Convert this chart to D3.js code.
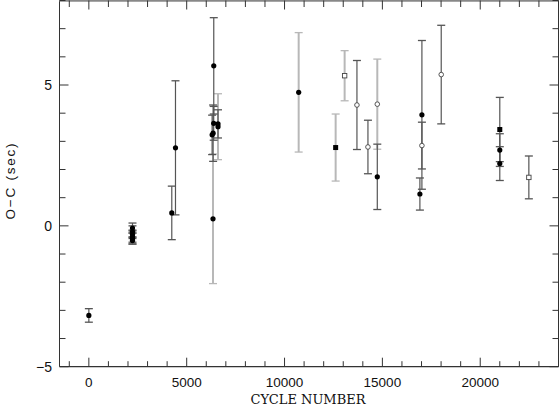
<!DOCTYPE html>
<html><head><meta charset="utf-8">
<script src="https://cdn.jsdelivr.net/npm/d3@7"></script>
<style>body{margin:0;background:#fff}svg{display:block}</style>
</head><body>
<svg id="c" width="560" height="407"></svg>
<script>
// ---- data ----
const cycles = [0, 2230, 2230, 2230, 2230, 2230, 2230, 4238, 4427, 6344, 6383, 6380, 6600, 6600, 6300, 6350,
  10722, 12612, 13071, 13700, 14262, 14740, 14740, 16917, 17020, 17020, 18007, 21000, 21000, 21000, 22485];
const oc = [-3.18, -0.08, -0.2, -0.3, -0.38, -0.45, -0.52, 0.46, 2.77, 0.25, 5.68, 3.64, 3.62, 3.52, 3.23, 3.29,
  4.74, 2.78, 5.33, 4.29, 2.80, 4.32, 1.74, 1.13, 3.94, 2.85, 5.37, 3.42, 2.69, 2.21, 1.72];
const ocErr = [0.24, 0.18, 0.2, 0.15, 0.2, 0.2, 0.12, 0.95, 2.38, 2.3, 1.71, 0.6, 0.5, 1.17, 0.7, 1.0,
  2.12, 1.19, 0.89, 1.58, 0.95, 1.6, 1.16, 0.57, 2.64, 0.83, 1.75, 1.14, 0.58, 0.6, 0.76];
// marker kind: fc = filled circle, fs = filled square, oc = open circle, os = open square
const markerKind = ["fc","fc","fc","fc","fc","fc","fc","fc","fc","fc","fc","fc","fc","fc","fc","fc",
  "fc","fs","os","oc","oc","oc","fc","fc","fc","oc","oc","fs","fc","fc","os"];
// error source group: d = dark, g = grey
const errGroup = ["d","d","d","d","d","d","d","d","d","g","d","d","d","g","d","d",
  "g","g","g","d","d","g","d","d","d","d","d","d","d","d","d"];
const xTickLabels = [0, 5000, 10000, 15000, 20000];
const yTickLabels = [-5, 0, 5];
const xTitle = "CYCLE NUMBER";
const yTitle = "O\u2212C  (sec)";

const rows = cycles.map((c, i) => ({c, v: oc[i], e: ocErr[i], k: markerKind[i], g: errGroup[i]}));

// ---- layout ----
const svg = d3.select("#c");
const L = 59.5, R = 558.5, T = 0.5, B = 366.7;
const x = d3.scaleLinear().domain([-1500, 24000]).range([L, R]);
const y = d3.scaleLinear().domain([-5, 8]).range([B, T]);
const frameCol = "#333";
const barCol = {d: "#555", g: "#b8b8b8"};
const barW = {d: 1.2, g: 2};

// frame
svg.append("line").attr("x1", L).attr("x2", L).attr("y1", T).attr("y2", B).attr("stroke", frameCol);
svg.append("line").attr("x1", R).attr("x2", R).attr("y1", T).attr("y2", B).attr("stroke", frameCol);
svg.append("line").attr("x1", L).attr("x2", R).attr("y1", B).attr("y2", B).attr("stroke", frameCol).attr("stroke-width", 1.2);
svg.append("line").attr("x1", L).attr("x2", R).attr("y1", 0.5).attr("y2", 0.5).attr("stroke", "#888").attr("stroke-width", 2.5);

// ticks
const xt = d3.range(-1000, 24001, 1000);
const yt = d3.range(-5, 8.01, 1);
const isMajX = t => t % 5000 === 0, isMajY = t => t % 5 === 0;
xt.forEach(t => {
  const len = isMajX(t) ? 9 : 5.5;
  svg.append("line").attr("x1", x(t)).attr("x2", x(t)).attr("y1", B).attr("y2", B - len).attr("stroke", frameCol);
  svg.append("line").attr("x1", x(t)).attr("x2", x(t)).attr("y1", T).attr("y2", T + (isMajX(t) ? 9 : 6.5)).attr("stroke", frameCol);
});
yt.forEach(t => {
  const len = isMajY(t) ? 9 : 6;
  svg.append("line").attr("x1", L).attr("x2", L + len).attr("y1", y(t)).attr("y2", y(t)).attr("stroke", frameCol);
  svg.append("line").attr("x1", R).attr("x2", R - len).attr("y1", y(t)).attr("y2", y(t)).attr("stroke", frameCol);
});

// tick labels
const fSans = "'Liberation Sans', Arial, sans-serif";
svg.selectAll(".xl").data(xTickLabels).join("text")
  .attr("x", d => x(d)).attr("y", 387).attr("text-anchor", "middle")
  .attr("font-family", fSans).attr("font-size", 13.5).attr("fill", "#111")
  .text(d => d);
svg.selectAll(".yl").data(yTickLabels).join("text")
  .attr("x", 52).attr("y", d => y(d) + 5).attr("text-anchor", "end")
  .attr("font-family", fSans).attr("font-size", 14).attr("fill", "#111")
  .text(d => d < 0 ? "\u2212" + Math.abs(d) : d);

// titles
svg.append("text").attr("x", 308).attr("y", 403.5).attr("text-anchor", "middle")
  .attr("font-family", "'DejaVu Serif', serif").attr("font-size", 13).attr("fill", "#111")
  .attr("textLength", 115).attr("lengthAdjust", "spacingAndGlyphs")
  .text(xTitle);
svg.append("text").attr("transform", "translate(15,181.5) rotate(-90)").attr("text-anchor", "middle")
  .attr("font-family", fSans).attr("font-size", 13.5).attr("fill", "#111")
  .attr("textLength", 76).attr("lengthAdjust", "spacing")
  .text(yTitle);

// error bars (grey first, then dark)
const order = rows.slice().sort((a, b) => (a.g === b.g ? 0 : a.g === "g" ? -1 : 1));
const eb = svg.append("g");
order.forEach(d => {
  const g = eb.append("g").attr("stroke", barCol[d.g]).attr("stroke-width", barW[d.g]);
  const cx = x(d.c), y1 = y(d.v + d.e), y2 = y(d.v - d.e);
  g.append("line").attr("x1", cx).attr("x2", cx).attr("y1", y1).attr("y2", y2);
  g.append("line").attr("x1", cx - 4).attr("x2", cx + 4).attr("y1", y1).attr("y2", y1).attr("stroke-width", 1.3);
  g.append("line").attr("x1", cx - 4).attr("x2", cx + 4).attr("y1", y2).attr("y2", y2).attr("stroke-width", 1.3);
});

// markers
const mk = svg.append("g");
rows.forEach(d => {
  const cx = x(d.c), cy = y(d.v);
  if (d.k === "fc") mk.append("circle").attr("cx", cx).attr("cy", cy).attr("r", 2.6).attr("fill", "#000");
  else if (d.k === "oc") mk.append("circle").attr("cx", cx).attr("cy", cy).attr("r", 2.3).attr("fill", "#fff").attr("stroke", "#444").attr("stroke-width", 0.9);
  else if (d.k === "fs") mk.append("rect").attr("x", cx - 2.5).attr("y", cy - 2.5).attr("width", 5).attr("height", 5).attr("fill", "#000");
  else mk.append("rect").attr("x", cx - 2.2).attr("y", cy - 2.2).attr("width", 4.4).attr("height", 4.4).attr("fill", "#fff").attr("stroke", "#444").attr("stroke-width", 0.9);
});
</script>
</body></html>
